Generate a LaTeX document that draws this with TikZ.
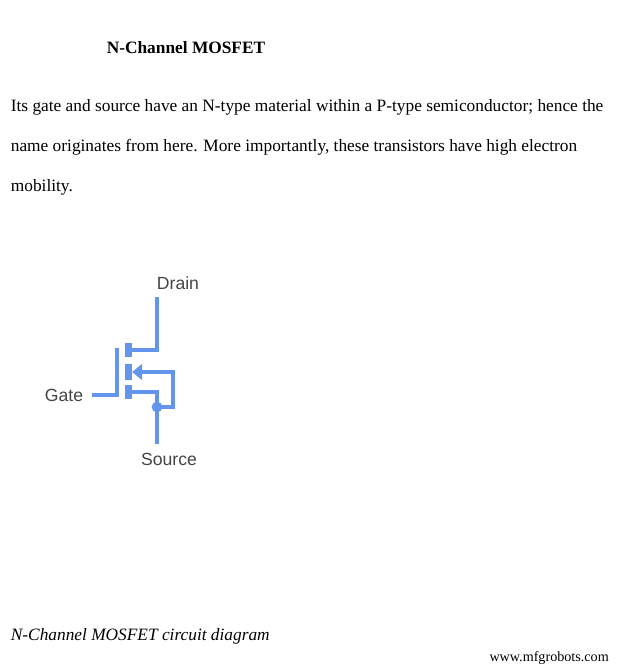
\documentclass[tikz,border=0pt]{standalone}
\usepackage{fontspec}
\setmainfont{Liberation Serif}
\newfontfamily\labelfont{Liberation Sans}
\definecolor{wire}{HTML}{6495ED}
\definecolor{labelgray}{HTML}{444444}
\tikzset{
  bodytext/.style={anchor=base west,inner sep=0pt,font=\fontsize{13}{15}\selectfont},
  pinlabel/.style={inner sep=0pt,text=labelgray,font=\labelfont\fontsize{13.2}{15}\selectfont},
  wireline/.style={draw=wire,line width=2.4pt},
  plate/.style={fill=wire,draw=none,minimum width=5pt,minimum height=10.6pt,inner sep=0pt},
}
\begin{document}
\begin{tikzpicture}[x=0.75pt,y=-0.75pt]
\useasboundingbox (0,0) rectangle (620,668);

\node(title) at (186,47.7)[inner sep=0pt,font=\bfseries\fontsize{13}{15}\selectfont] {N-Channel MOSFET};
\node(line1) at (10.6,111)[bodytext] {Its gate and source have an N-type material within a P-type semiconductor; hence the};
\node(line2) at (10.6,151)[bodytext] {name originates from here. More importantly, these transistors have high electron};
\node(line3) at (10.6,191)[bodytext] {mobility.};
\node(caption) at (10.6,640)[bodytext,font=\itshape\fontsize{13}{15}\selectfont] {N-Channel MOSFET circuit diagram};
\node(site) at (609,658)[inner sep=0pt,anchor=east,font=\fontsize{10.6}{12}\selectfont] {www.mfgrobots.com};

\node(drain) at (178,283)[pinlabel] {Drain};
\node(gate) at (64,395)[pinlabel] {Gate};
\node(source) at (169,459)[pinlabel] {Source};

\node(top) at (128.5,350)[plate] {};
\node(mid) at (128.5,372)[plate,minimum height=11.4pt] {};
\node(bot) at (128.5,392)[plate] {};
\node(dot) at (157,407)[circle,fill=wire,minimum size=8pt,inner sep=0pt] {};

\coordinate(dtop) at (157,297);
\coordinate(dcorner) at (157,350);
\coordinate(gleft) at (92,395);
\coordinate(gcorner) at (117,395);
\coordinate(gtop) at (117,348);
\coordinate(scorner) at (157,392);
\coordinate(send) at (157,444);
\coordinate(rlow) at (173,407);
\coordinate(rhigh) at (173,372);
\coordinate(tiptail) at (139,372);

\draw [wireline] (dtop) -- (dcorner) -- (top.center);
\draw [wireline] (gleft) -- (gcorner) -- (gtop);
\draw [wireline] (bot.center) -- (scorner) -- (send);
\draw [wireline] (dot.center) -- (rlow) -- (rhigh) -- (tiptail);
\fill [wire] (mid.east) -- (142,364) -- (142,380) -- cycle;

\end{tikzpicture}
\end{document}
